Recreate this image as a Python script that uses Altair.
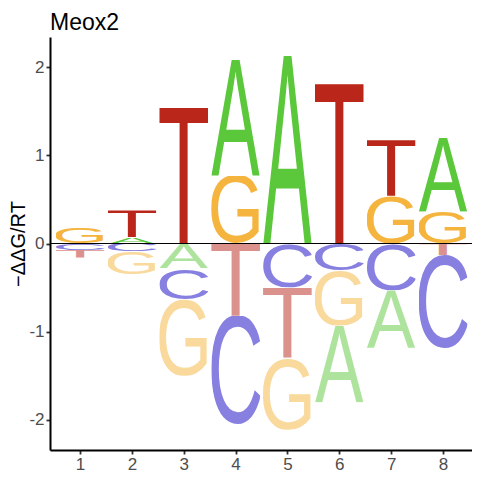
import base64
import altair as alt
import pandas as pd

# ---- data ----
positions = [1, 2, 3, 4, 5, 6, 7, 8]
val_A = [0.00, 0.075, -0.28, 1.31, 2.13, -0.87, -0.65, 0.84]
val_C = [-0.075, -0.085, -0.35, -1.24, -0.50, -0.30, -0.53, -1.06]
val_G = [0.18, -0.26, -0.87, 0.77, -0.81, -0.63, 0.54, 0.36]
val_T = [-0.085, 0.30, 1.54, -0.82, -0.80, 1.81, 0.63, -0.13]

x_ticks = [1, 2, 3, 4, 5, 6, 7, 8]
y_ticks = [-2, -1, 0, 1, 2]

letters = ["A", "C", "G", "T"]
pos_colors = {"A": "#5AC83A", "C": "#8780E0", "G": "#F5B43D", "T": "#BA261A"}
neg_colors = {"A": "#AEE39D", "C": "#8780E0", "G": "#F9D99C", "T": "#DC928C"}

# glyph bounding boxes (font units, Liberation Sans)
bbox = {"A": (-3, 0, 1369, 1409), "C": (100, -24, 1384, 1433),
        "G": (108, -24, 1481, 1433), "T": (48, 0, 1203, 1409)}


def glyph_url(letter, color):
    x0, y0, x1, y1 = bbox[letter]
    svg = (
        f'<svg xmlns="http://www.w3.org/2000/svg" width="100%" height="100%" '
        f'viewBox="{x0} {-y1} {x1 - x0} {y1 - y0}" preserveAspectRatio="none">'
        f'<text x="0" y="0" font-family="Liberation Sans" '
        f'font-size="2048" fill="{color}">{letter}</text></svg>'
    )
    return "data:image/svg+xml;base64," + base64.b64encode(svg.encode()).decode()


vals = {"A": val_A, "C": val_C, "G": val_G, "T": val_T}
half = 0.47
rows = []
for i, p in enumerate(positions):
    col = [(L, vals[L][i]) for L in letters]
    pos = sorted([c for c in col if c[1] > 0], key=lambda c: c[1])
    neg = sorted([c for c in col if c[1] < 0], key=lambda c: -c[1])
    base = 0.0
    for L, v in pos:
        rows.append(dict(letter=L, x=p - half, x2=p + half, y=base, y2=base + v,
                         url=glyph_url(L, pos_colors[L])))
        base += v
    base = 0.0
    for L, v in neg:
        rows.append(dict(letter=L, x=p - half, x2=p + half, y=base, y2=base + v,
                         url=glyph_url(L, neg_colors[L])))
        base += v

df = pd.DataFrame(rows)

xscale = alt.Scale(domain=[0.42, 8.56], nice=False, zero=False)
yscale = alt.Scale(domain=[-2.34, 2.34], nice=False, zero=False)

hyphen = "datum.value < 0 ? '-' + abs(datum.value) : '' + datum.value"

logo = alt.Chart(df).mark_image(aspect=False).encode(
    x=alt.X("x:Q", scale=xscale,
            axis=alt.Axis(values=x_ticks, title=None, labelExpr=hyphen, labelPadding=2)),
    x2="x2:Q",
    y=alt.Y("y:Q", scale=yscale,
            axis=alt.Axis(values=y_ticks, title="−ΔΔG/RT", labelExpr=hyphen,
                          titlePadding=0, labelPadding=2)),
    y2="y2:Q",
    url="url:N",
)

zero = alt.Chart(pd.DataFrame({"z": [0]})).mark_rule(color="black", strokeWidth=1).encode(
    y=alt.Y("z:Q", scale=yscale)
)

chart = (
    alt.layer(logo, zero)
    .properties(
        width=422, height=413,
        autosize=alt.AutoSizeParams(type="none"),
        padding={"left": 42, "top": 29, "right": 0, "bottom": 22},
        title=alt.TitleParams("Meox2", anchor="start", frame="group", fontSize=23,
                              fontWeight="normal", color="black", offset=2,
                              font="Liberation Sans"),
    )
    .configure(font="Liberation Sans")
    .configure_view(stroke=None)
    .configure_axis(
        grid=False, domainColor="black", domainWidth=2, tickColor="#333333",
        tickSize=4, tickWidth=1.8, labelColor="#4D4D4D", labelFontSize=17,
        labelFont="Liberation Sans", titleFont="Liberation Sans",
        titleFontSize=20, titleFontWeight="normal", titleColor="black",
    )
)

chart.save("out.html", embed_options={"renderer": "svg", "actions": False})
